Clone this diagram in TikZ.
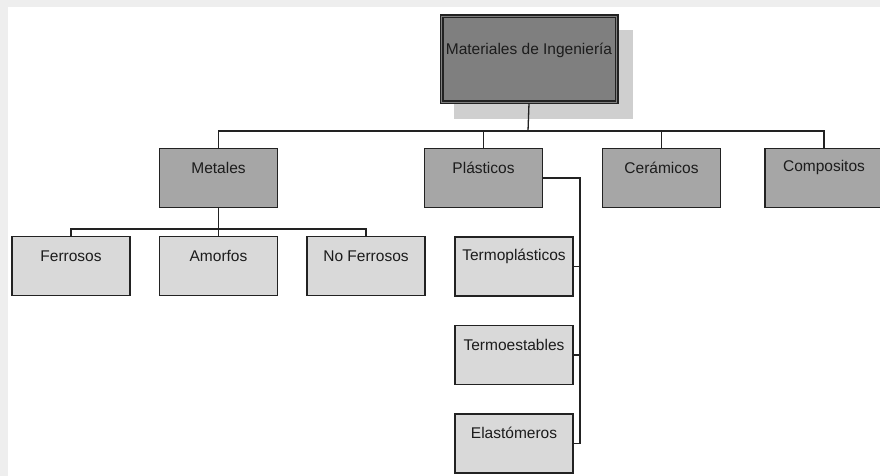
\documentclass[tikz,border=0pt]{standalone}
\usepackage{fontspec}
\setmainfont{Liberation Sans}
\definecolor{rootgray}{HTML}{7F7F7F}
\definecolor{midgray}{HTML}{A6A6A6}
\definecolor{lightgray}{HTML}{D9D9D9}
\definecolor{shadowgray}{HTML}{CFCFCF}
\definecolor{linecol}{HTML}{222222}
\definecolor{txtcol}{HTML}{1C1C1C}
\definecolor{framegray}{HTML}{EEEEEE}
\tikzset{
  conn/.style={draw=linecol, line width=1.3pt},
  boxbase/.style={rectangle, draw=linecol, line width=1.3pt, inner sep=0pt,
                  minimum width=118pt, minimum height=59pt},
  catbox/.style={boxbase, fill=midgray},
  subbox/.style={boxbase, fill=lightgray},
  lbl/.style={text=txtcol, font=\fontsize{15.5}{18}\selectfont, inner sep=0pt}
}
\begin{document}
\begin{tikzpicture}[x=1pt, y=-1pt]
  \useasboundingbox (0,0) rectangle (880,476);
  \clip (0,0) rectangle (880,476);
  % page frame
  \fill[white] (0,0) rectangle (880,476);
  \fill[framegray] (0,0) rectangle (8,476);
  \fill[framegray] (0,0) rectangle (880,7);

  % root with drop shadow and double border
  \node[rectangle, fill=shadowgray, inner sep=0pt, minimum width=179pt, minimum height=89pt]
    (rootshadow) at (543.5,74.5) {};
  \node[rectangle, draw=linecol, line width=1.2pt, double=rootgray, double distance=1.6pt,
        fill=rootgray, inner sep=0pt, minimum width=175pt, minimum height=86pt]
    (root) at (529,59.5) {};
  \node[lbl] (rootT) at (529,50) {Materiales de Ingeniería};

  % categories
  \node[catbox] (metales)    at (218.5,178) {};
  \node[catbox] (plasticos)  at (483.5,178) {};
  \node[catbox] (ceramicos)  at (661.5,178) {};
  \node[catbox] (compositos) at (824,178) {};
  \node[lbl] at ([yshift=-20pt]metales.north)    {Metales};
  \node[lbl] at ([yshift=-20pt]plasticos.north)  {Plásticos};
  \node[lbl] at ([yshift=-20pt]ceramicos.north)  {Cerámicos};
  \node[lbl] at ([yshift=-20pt]compositos.north) {Compositos};

  % metals
  \node[subbox] (ferrosos)   at (71,266)    {};
  \node[subbox] (amorfos)    at (218.5,266) {};
  \node[subbox] (noferrosos) at (366,266)   {};
  \node[lbl] at ([yshift=-20pt]ferrosos.north)   {Ferrosos};
  \node[lbl] at ([yshift=-20pt]amorfos.north)    {Amorfos};
  \node[lbl] at ([yshift=-20pt]noferrosos.north) {No Ferrosos};

  % plastics
  \node[subbox] (termopl)  at (514,266.5) {};
  \node[subbox] (termoest) at (514,355)   {};
  \node[subbox] (elast)    at (514,443.5) {};
  \node[lbl] at ([yshift=-20pt]termopl.north)  {Termoplásticos};
  \node[lbl] at ([yshift=-20pt]termoest.north) {Termoestables};
  \node[lbl] at ([yshift=-20pt]elast.north)    {Elastómeros};

  % connectors
  \coordinate (bus1) at (528,131);
  \draw[conn] (root.south) -- (bus1);
  \draw[conn] (metales.north) |- (bus1) -| (compositos.north);
  \draw[conn] (plasticos.north) -- (plasticos.north |- bus1);
  \draw[conn] (ceramicos.north) -- (ceramicos.north |- bus1);

  \coordinate (bus2) at (218.5,229);
  \draw[conn] (metales.south) -- (amorfos.north);
  \draw[conn] (ferrosos.north) |- (bus2) -| (noferrosos.north);

  \coordinate (bus3) at (580,178);
  \draw[conn] (plasticos.east) -- (bus3) |- (elast.east);
  \draw[conn] (termopl.east) -- (termopl.east -| bus3);
  \draw[conn] (termoest.east) -- (termoest.east -| bus3);
\end{tikzpicture}
\end{document}
